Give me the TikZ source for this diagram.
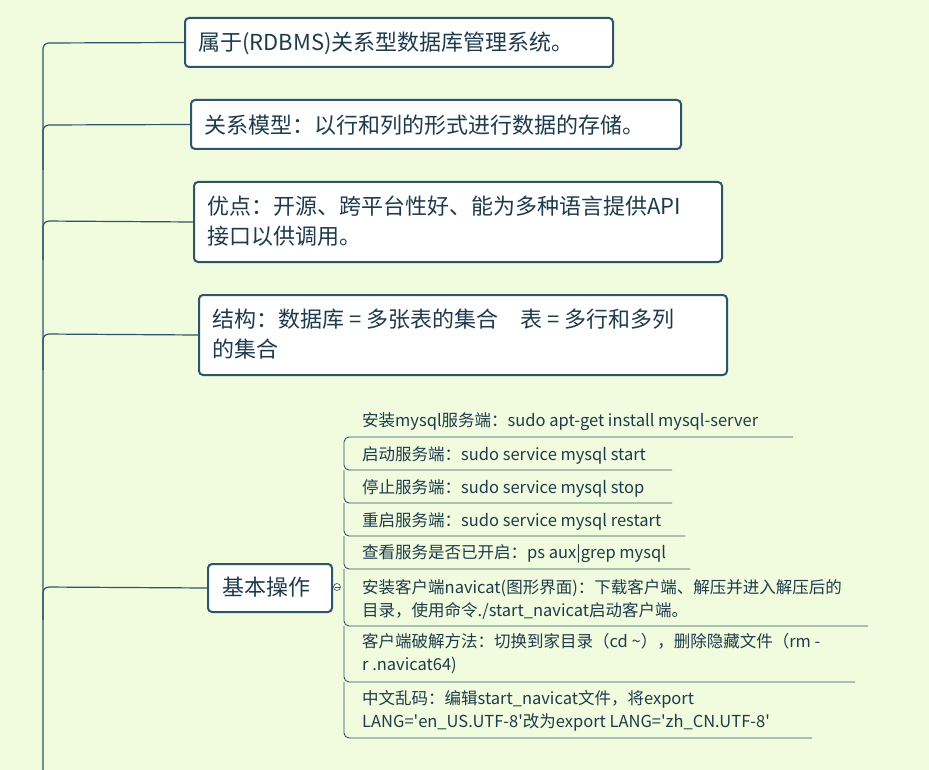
\documentclass[tikz,border=0pt]{standalone}
\usepackage{fontspec}
\setmainfont{Noto Sans CJK SC}
\begin{document}
\begin{tikzpicture}[x=1pt,y=-1pt,
  bg/.style={fill=bgc,draw=none},
  topic/.style={draw=linec,line width=2pt,fill=white,rounded corners=4pt},
  ttext/.style={anchor=west,inner sep=0pt,text=txtc,font=\fontsize{22}{30}\selectfont,align=left},
  itext/.style={anchor=west,inner sep=0pt,text=txtc,font=\fontsize{16.5}{23}\selectfont,align=left},
  conn/.style={draw=linec,line width=1.2pt,rounded corners=6pt},
  thin/.style={draw=linec,line width=0.9pt,rounded corners=5pt}]
\definecolor{bgc}{HTML}{F1FCDE}
\definecolor{linec}{HTML}{2D5468}
\definecolor{txtc}{HTML}{1E3B4E}
\path[bg] (0,0) rectangle (929,770);
\useasboundingbox (0,0) rectangle (929,770);
% boxes
\node[topic,minimum width=428pt,minimum height=49pt,anchor=north west] (b1) at (184,17) {};
\node[ttext] (t1) at (198,43) {属于(RDBMS)关系型数据库管理系统。};
\node[topic,minimum width=490pt,minimum height=49pt,anchor=north west] (b2) at (190,99) {};
\node[ttext] (t2) at (204,125) {关系模型：以行和列的形式进行数据的存储。};
\node[topic,minimum width=528pt,minimum height=80pt,anchor=north west] (b3) at (193,181) {};
\node[ttext] (t3) at (207,221) {优点：开源、跨平台性好、能为多种语言提供API\\接口以供调用。};
\node[topic,minimum width=528pt,minimum height=80pt,anchor=north west] (b4) at (198,294) {};
\node[ttext] (t4) at (212,334) {结构：数据库 = 多张表的集合\quad 表 = 多行和多列\\的集合};
\node[topic,minimum width=124pt,minimum height=48pt,anchor=north west] (b5) at (207,563) {};
\node[ttext] (t5) at (222,587) {基本操作};
% trunk
\coordinate (top) at (43,43);
\coordinate (bot) at (43,770);
\draw[conn] (b1.west) -- (top) -- (bot);
\draw[conn] (b2.west) -- (43,125) -- (43,170);
\draw[conn] (b3.west) -- (43,221) -- (43,260);
\draw[conn] (b4.west) -- (43,334) -- (43,370);
\draw[conn] (b5.west) -- (43,587) -- (43,620);
% small circle
\node[draw=linec,fill=white,circle,inner sep=0pt,minimum size=7pt,line width=0.6pt] (c) at (337,587) {};
\draw[linec,line width=0.6pt] (334.5,587) -- (339.5,587);
% items
\node[itext] (i1) at (362,422) {安装mysql服务端：sudo apt-get install mysql-server};
\node[itext] (i2) at (362,455) {启动服务端：sudo service mysql start};
\node[itext] (i3) at (362,488) {停止服务端：sudo service mysql stop};
\node[itext] (i4) at (362,521) {重启服务端：sudo service mysql restart};
\node[itext] (i5) at (362,554) {查看服务是否已开启：ps aux|grep mysql};
\node[itext] (i6) at (362,599) {安装客户端navicat(图形界面)：下载客户端、解压并进入解压后的\\目录，使用命令./start\_navicat启动客户端。};
\node[itext] (i7) at (362,654) {客户端破解方法：切换到家目录（cd \textasciitilde），删除隐藏文件（rm -\\r .navicat64)};
\node[itext] (i8) at (362,711) {中文乱码：编辑start\_navicat文件，将export\\LANG=\textquotesingle en\_US.UTF-8\textquotesingle 改为export LANG=\textquotesingle zh\_CN.UTF-8\textquotesingle};
\draw[thin] (793,437) -- (344,437) -- (344,470) -- (672,470);
\draw[thin] (344,470) -- (344,503) -- (672,503);
\draw[thin] (344,503) -- (344,536) -- (685,536);
\draw[thin] (344,536) -- (344,569) -- (690,569);
\draw[thin] (344,569) -- (344,626) -- (868,626);
\draw[thin] (344,626) -- (344,682) -- (855,682);
\draw[thin] (344,682) -- (344,738) -- (812,738);
\end{tikzpicture}
\end{document}
